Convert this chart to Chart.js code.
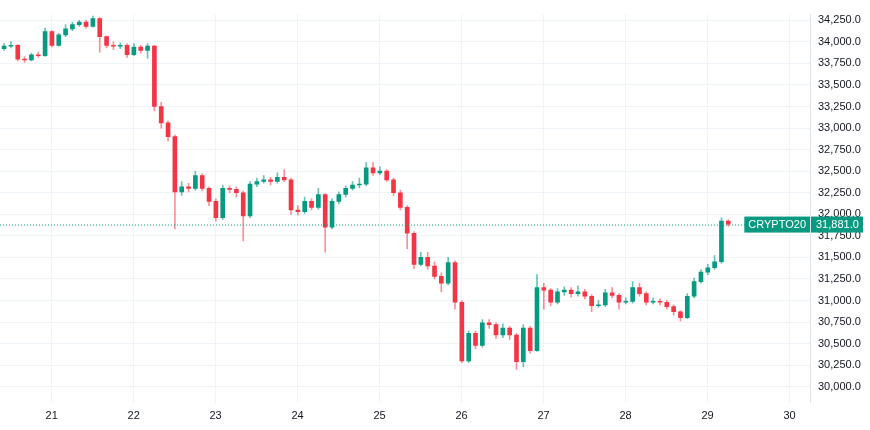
<!DOCTYPE html>
<html>
<head>
<meta charset="utf-8">
<script src="https://cdn.jsdelivr.net/npm/chart.js@4.4.0/dist/chart.umd.min.js"></script>
<style>
  html, body { margin: 0; padding: 0; background: #fff; }
  #wrap { width: 870px; height: 430px; }
</style>
</head>
<body>
<div id="wrap"><canvas id="chart"></canvas></div>
<script>
// 2-hour candles, first one at day 20.42
const startDay = 20.42;
const opens = [33920,33950,33960,33800,33790,33850,33840,34120,33960,34080,34150,34200,34230,34180,34270,34060,33960,33950,33960,33850,
  33940,33900,33950,33250,33060,32900,32260,32320,32300,32450,32300,32150,31960,32300,32290,32250,31980,32350,32380,32400,
  32380,32430,32400,32050,32030,32150,32080,32230,31850,32150,32230,32300,32340,32350,32540,32480,32500,32400,32250,32080,
  31780,31420,31500,31400,31280,31200,31440,30980,30300,30620,30480,30740,30720,30600,30680,30600,30290,30680,30420,31150,
  31120,30980,31100,31120,31080,31100,31050,30940,30950,31090,31060,30980,30990,31150,31080,30980,30990,30980,30930,30870,
  30800,31050,31220,31330,31380,31450,31920];
const closes = [33950,33960,33800,33790,33850,33840,34120,33960,34080,34150,34200,34230,34180,34270,34060,33960,33950,33960,33850,33940,
  33900,33950,33250,33060,32900,32260,32320,32300,32450,32300,32150,31960,32300,32290,32250,31980,32350,32380,32400,32380,
  32430,32400,32050,32030,32150,32080,32230,31850,32150,32230,32300,32340,32350,32540,32480,32500,32400,32250,32080,31780,
  31420,31500,31400,31280,31200,31440,30980,30300,30620,30480,30740,30720,30600,30680,30600,30290,30680,30420,31150,31120,
  30980,31100,31120,31080,31100,31050,30940,30950,31090,31060,30980,30990,31150,31080,30980,30990,30980,30930,30870,30800,
  31050,31220,31330,31380,31450,31920,31885];
const highs = [33980,34000,33970,33830,33870,33880,34160,34130,34100,34200,34230,34250,34250,34300,34280,34070,34000,33990,33980,33980,
  33960,33980,33960,33300,33080,32920,32380,32360,32500,32470,32320,32180,32340,32330,32320,32270,32380,32420,32450,32430,
  32480,32520,32420,32100,32200,32180,32300,32240,32180,32260,32330,32380,32420,32600,32600,32550,32520,32420,32280,32100,
  31800,31560,31560,31450,31320,31500,31460,31000,30650,30650,30780,30780,30740,30730,30700,30620,30720,30700,31300,31200,
  31140,31140,31160,31150,31170,31130,31070,31000,31130,31150,31080,31030,31220,31200,31100,31030,31020,31000,30950,30880,
  31080,31260,31360,31420,31520,31960,31940];
const lows = [33900,33930,33780,33760,33780,33820,33830,33940,33950,34060,34130,34180,34160,34170,33880,33930,33910,33920,33820,33840,
  33870,33810,33200,33000,32850,31830,32220,32260,32280,32270,32100,31920,31940,32250,32200,31690,31960,32320,32360,32340,
  32360,32380,32000,31990,32010,32050,32060,31560,31830,32120,32200,32280,32310,32330,32450,32460,32380,32220,32050,31600,
  31370,31400,31360,31250,31100,31180,30900,30280,30280,30440,30460,30680,30560,30570,30550,30200,30230,30390,30410,30900,
  30940,30960,31060,31040,31050,31020,30870,30920,30930,31030,30900,30960,30970,31050,30950,30960,30950,30900,30830,30760,
  30790,31030,31200,31300,31360,31430,31860];
const dayTicks = [21,22,23,24,25,26,27,28,29,30];
const lastPrice = 31881.0;
const symbol = 'CRYPTO20';

const UP = '#089981', DOWN = '#f23645';
const xs = closes.map((c, i) => startDay + i / 12);
const colors = closes.map((c, i) => c >= opens[i] ? UP : DOWN);
const wickColors = closes.map((c, i) => c >= opens[i] ? 'rgba(8,153,129,0.6)' : 'rgba(242,54,69,0.55)');

const fmt = v => v.toLocaleString('en-US', { minimumFractionDigits: 1, maximumFractionDigits: 1 });

// dotted last-price line plus the two labels on the price axis
const lastPricePlugin = {
  id: 'lastPrice',
  afterDraw(chart) {
    const { ctx, chartArea, scales } = chart;
    const y = scales.y.getPixelForValue(lastPrice);
    ctx.save();
    ctx.strokeStyle = UP;
    ctx.lineWidth = 1;
    ctx.setLineDash([1, 2]);
    ctx.beginPath();
    ctx.moveTo(chartArea.left, y + 0.5);
    ctx.lineTo(chartArea.right, y + 0.5);
    ctx.stroke();
    ctx.setLineDash([]);
    ctx.font = '11px "Liberation Sans", Arial, sans-serif';
    ctx.textBaseline = 'middle';
    const priceTxt = fmt(lastPrice);
    const ax = chartArea.right + 1;
    ctx.fillStyle = UP;
    ctx.fillRect(ax, y - 8, 52, 16);
    const sw = ctx.measureText(symbol).width + 8;
    ctx.fillRect(ax - sw - 1, y - 8, sw, 16);
    ctx.fillStyle = '#fff';
    ctx.fillText(priceTxt, ax + 5, y + 0.5);
    ctx.fillText(symbol, ax - sw + 3, y + 0.5);
    ctx.restore();
  }
};

new Chart(document.getElementById('chart').getContext('2d'), {
  type: 'bar',
  data: {
    datasets: [
      {
        label: 'body',
        data: xs.map((x, i) => ({ x: x, y: [opens[i], closes[i] === opens[i] ? closes[i] + 8 : closes[i]] })),
        backgroundColor: colors,
        barThickness: 4,
        grouped: false,
        order: 1
      },
      {
        label: 'wick',
        data: xs.map((x, i) => ({ x: x, y: [lows[i], highs[i]] })),
        backgroundColor: wickColors,
        barThickness: 1,
        grouped: false,
        order: 2
      }
    ]
  },
  options: {
    responsive: true,
    maintainAspectRatio: false,
    animation: false,
    layout: { padding: { right: 8, top: -6, bottom: 0, left: 0 } },
    plugins: { legend: { display: false }, tooltip: { enabled: false } },
    scales: {
      x: {
        type: 'linear',
        offset: false,
        min: 20.37,
        max: 30.25,
        afterBuildTicks: axis => { axis.ticks = dayTicks.map(v => ({ value: v })); },
        ticks: {
          color: '#131722',
          font: { family: '"Liberation Sans", Arial, sans-serif', size: 11 },
          maxRotation: 0,
          padding: 7,
          callback: v => String(v)
        },
        grid: { color: '#f0f3fa', drawTicks: false, offset: false },
        border: { display: false }
      },
      y: {
        position: 'right',
        min: 29814,
        max: 34316,
        afterBuildTicks: axis => {
          const t = [];
          for (let v = 30000; v <= 34250; v += 250) t.push({ value: v });
          axis.ticks = t;
        },
        afterFit: axis => { axis.width = 52; },
        ticks: {
          color: '#131722',
          font: { family: '"Liberation Sans", Arial, sans-serif', size: 11 },
          padding: 8,
          callback: v => fmt(v)
        },
        grid: { color: '#f0f3fa', drawTicks: false },
        border: { display: true, color: '#e0e3eb' }
      }
    }
  },
  plugins: [lastPricePlugin]
});
</script>
</body>
</html>
